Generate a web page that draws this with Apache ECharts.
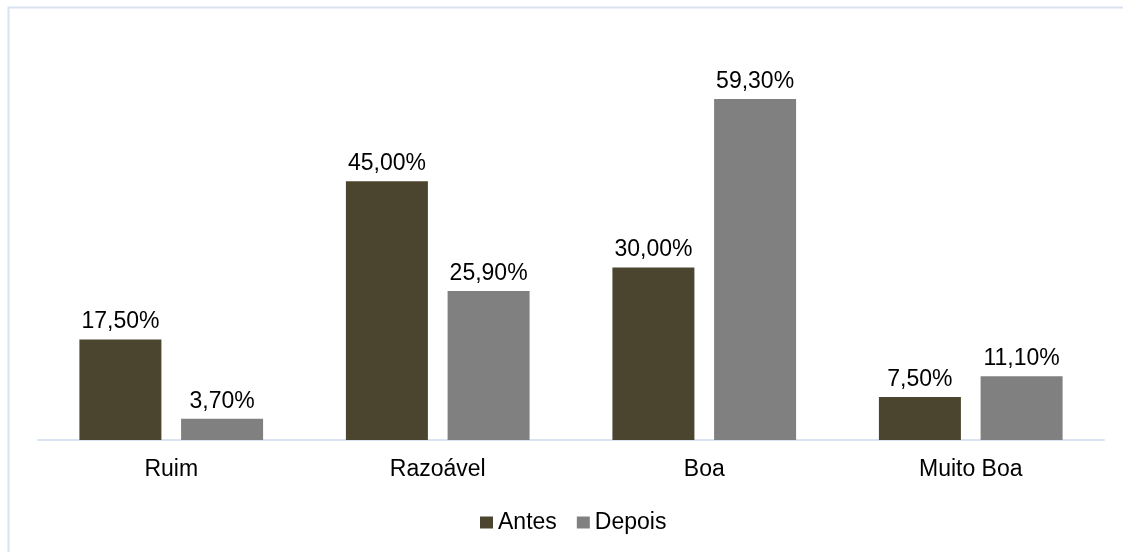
<!DOCTYPE html>
<html><head><meta charset="utf-8">
<script src="https://cdn.jsdelivr.net/npm/echarts@6/dist/echarts.min.js"></script>
<style>html,body{margin:0;padding:0;background:#fff}#c{width:1123px;height:552px}</style>
</head><body><div id="c"></div>
<script>
const categories = ['Ruim', 'Razoável', 'Boa', 'Muito Boa'];
const antes = [17.5, 45.0, 30.0, 7.5];
const depois = [3.7, 25.9, 59.3, 11.1];
const seriesNames = ['Antes', 'Depois'];

const fmt = p => p.value.toFixed(2).replace('.', ',') + '%';
const font = 'Liberation Sans, Arial, sans-serif';
const chart = echarts.init(document.getElementById('c'), null, {renderer: 'canvas'});
chart.setOption({
  animation: false,
  graphic: [{type: 'rect', shape: {x: 8.5, y: 7.5, width: 1300, height: 700}, style: {fill: 'none', stroke: '#D9E3F2', lineWidth: 2}, silent: true, z: -10}],
  grid: {left: 38, right: 19, top: 37.5, bottom: 112, containLabel: false},
  legend: {top: 506, left: 475, itemWidth: 13, itemHeight: 12, itemGap: 20, icon: 'rect',
    textStyle: {fontFamily: font, fontSize: 23, color: '#000'}, data: seriesNames},
  xAxis: {type: 'category', data: categories,
    axisLine: {lineStyle: {color: '#D9E3F2', width: 2}}, axisTick: {show: false},
    axisLabel: {fontFamily: font, fontSize: 23, color: '#000', margin: 18}},
  yAxis: {type: 'value', min: 0, max: 70, show: false, splitLine: {show: false}},
  series: [
    {name: seriesNames[0], type: 'bar', data: antes, barWidth: 82, barGap: '24%',
      itemStyle: {color: '#4B452F'},
      label: {show: true, position: 'top', distance: 6, formatter: fmt, fontFamily: font, fontSize: 23, color: '#000'}},
    {name: seriesNames[1], type: 'bar', data: depois, barWidth: 82,
      itemStyle: {color: '#808080'},
      label: {show: true, position: 'top', distance: 6, formatter: fmt, fontFamily: font, fontSize: 23, color: '#000'}}
  ]
});
</script></body></html>
